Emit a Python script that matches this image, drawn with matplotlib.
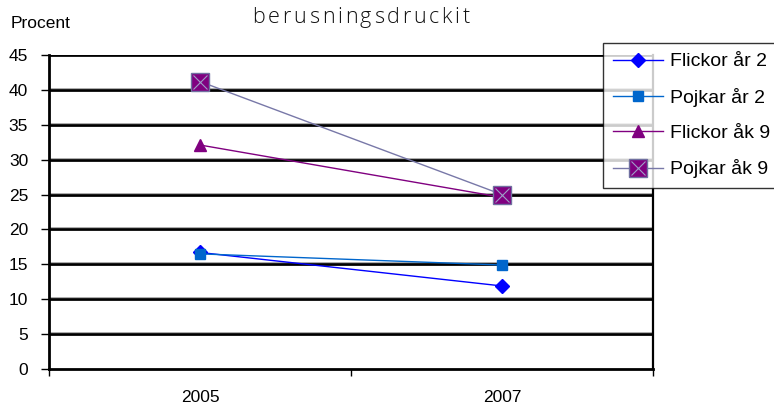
import matplotlib
matplotlib.use("Agg")
import matplotlib.pyplot as plt
from matplotlib.lines import Line2D

years = ["2005", "2007"]
flickor_ar2 = [16.7, 11.9]
pojkar_ar2 = [16.5, 14.9]
flickor_ak9 = [32.1, 24.6]
pojkar_ak9 = [41.2, 25.0]
labels = ["Flickor år 2", "Pojkar år 2", "Flickor åk 9", "Pojkar åk 9"]
yticks = [0, 5, 10, 15, 20, 25, 30, 35, 40, 45]
title = "berusningsdruckit"

plt.rcParams['font.family'] = ['Liberation Sans', 'DejaVu Sans']

fig = plt.figure(figsize=(7.74, 4.08), dpi=100)
ax = fig.add_axes([49/774, 1-369/408, (653-49)/774, (369-55)/408])

x = list(range(len(years)))
for yv in yticks[1:]:
    ax.axhline(yv, color='#AAAAAA', lw=2.8, zorder=1)
    ax.axhline(yv, color='black', lw=1.9, zorder=1.1)

h1, = ax.plot(x, flickor_ar2, color='#0000FF', lw=1, marker='D', ms=7,
              mfc='#0000FF', mec='#0000FF', zorder=3)
h2, = ax.plot(x, pojkar_ar2, color='#0066CC', lw=1, marker='s', ms=7.5,
              mfc='#0066CC', mec='#0066CC', zorder=4)
h3, = ax.plot(x, flickor_ak9, color='#800080', lw=1, marker='^', ms=9,
              mfc='#800080', mec='#800080', zorder=5)
h4, = ax.plot(x, pojkar_ak9, color='#7878A8', lw=1, marker='s', ms=13.5,
              mfc='#800080', mec='#7070A0', mew=1, zorder=6)
h4x, = ax.plot(x, pojkar_ak9, ls='none', marker='x', ms=10, mec='#9E9EC8',
               mew=0.8, zorder=7)

ax.set_xlim(-0.5, 1.5)
ax.set_ylim(0, 45)
ax.set_yticks(yticks)
ax.set_xticks(x)
ax.set_xticklabels(years)
ax.set_xticks([-0.5, 0.5, 1.5], minor=True)
ax.tick_params(axis='x', which='major', length=0, pad=15, labelsize=12.5)
ax.tick_params(axis='x', which='minor', length=5, width=1, direction='out')
ax.tick_params(axis='y', length=6, width=1, pad=9, labelsize=12.5, direction='out')

for side in ['left', 'bottom']:
    ax.spines[side].set_linewidth(2)
    ax.spines[side].set_color('black')
ax.spines['right'].set_linewidth(1.6)
ax.spines['right'].set_color('black')
ax.spines['top'].set_visible(False)

fig.text(11/774, 1-23/408, "Procent", fontsize=12.5, va='center', ha='left')

# letter-spaced title
renderer = fig.canvas.get_renderer()
tkw = dict(fontsize=15.5, va='baseline', ha='left',
           family=['Open Sans', 'DejaVu Sans'], fontweight='light', color='#111111')
widths = []
for ch in title:
    t = fig.text(0, 0, ch, **tkw)
    widths.append(t.get_window_extent(renderer).width)
    t.remove()
target_w = 217.0
gap = (target_w - sum(widths)) / (len(title) - 1)
xpix = 361 - target_w / 2
for ch, w in zip(title, widths):
    fig.text(xpix / 774, 1 - 23 / 408, ch, **tkw)
    xpix += w + gap

leg = fig.legend([h1, h2, h3, (h4, h4x)], labels,
                 loc='upper left', bbox_to_anchor=(603/774, 1-43/408),
                 fontsize=14, frameon=True, fancybox=False, shadow=False,
                 handlelength=2.6, handletextpad=0.35, borderpad=0.5,
                 labelspacing=0.9, borderaxespad=0)
leg.get_frame().set_edgecolor('black')
leg.get_frame().set_linewidth(1)

fig.savefig("out.png", dpi=100)
